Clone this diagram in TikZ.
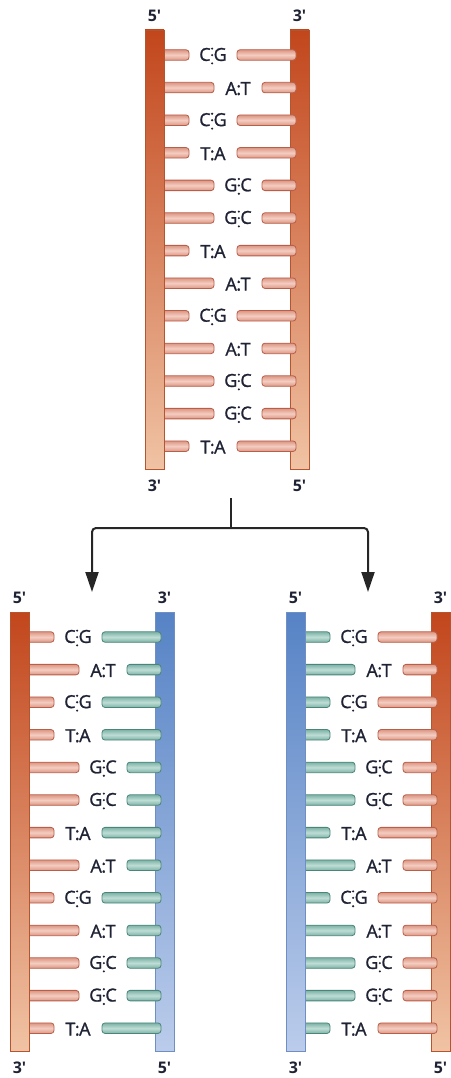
\documentclass[tikz,border=0pt]{standalone}
\usepackage{fontspec}
\setmainfont{Open Sans}
\newfontfamily\pairfont{Open Sans}[FakeBold=1.2]
\usetikzlibrary{arrows.meta}

\definecolor{rustTop}{HTML}{C2461C}
\definecolor{rustBot}{HTML}{F0C3A4}
\definecolor{rustEdge}{HTML}{B4552F}
\definecolor{blueTop}{HTML}{5683C5}
\definecolor{blueBot}{HTML}{BBCCEB}
\definecolor{blueEdge}{HTML}{6F8FC4}
\definecolor{oRungEdge}{HTML}{B85E49}
\definecolor{oRungFill}{HTML}{DC9683}
\definecolor{oRungLight}{HTML}{F4CDC1}
\definecolor{tRungEdge}{HTML}{4B8579}
\definecolor{tRungFill}{HTML}{7DB2A6}
\definecolor{tRungLight}{HTML}{BEDDD5}
\definecolor{ink}{HTML}{1E2233}

% three hydrogen-bond dots between G and C
\newcommand{\tripdots}{\tikz[baseline=0pt]{\fill[ink] (0,-2.5pt) circle (1.2pt) (0,5.8pt) circle (1.2pt) (0,12.3pt) circle (1.2pt);}}

\tikzset{
  strandbase/.style={rectangle, inner sep=0pt, outer sep=0pt, anchor=north west,
    minimum width=19pt, minimum height=439pt, line width=0.6pt},
  rust/.style={strandbase, draw=rustEdge, top color=rustTop, bottom color=rustBot},
  blue/.style={strandbase, draw=blueEdge, top color=blueTop, bottom color=blueBot},
  rungbase/.style={rectangle, rounded corners=3pt, inner sep=0pt, outer sep=0pt,
    minimum height=10.5pt, line width=0.8pt},
  orung/.style={rungbase, draw=oRungEdge, top color=oRungFill, bottom color=oRungFill, middle color=oRungLight},
  trung/.style={rungbase, draw=tRungEdge, top color=tRungFill, bottom color=tRungFill, middle color=tRungLight},
  pairlab/.style={inner sep=0pt, text=ink, font=\pairfont\fontsize{18}{18}\selectfont},
  endlab/.style={inner sep=0pt, text=ink, font=\fontsize{16}{16}\selectfont\bfseries},
  splitline/.style={draw=black!85, line width=2pt},
  splitarrow/.style={splitline, rounded corners=4pt, -{Triangle[length=20pt,width=13pt]}}
}

% #1 name, #2 left x, #3 top y, #4 left strand style, #5 right strand style,
% #6 left rung style, #7 right rung style
\newcommand{\ladder}[7]{%
  \pgfmathsetmacro{\Lx}{#2+19}%
  \pgfmathsetmacro{\Rx}{#2+145}%
  % rungs attached to the left strand (under it)
  \foreach \rl [count=\i] in {25,50,25,25,50,50,25,50,25,50,50,50,25}{%
    \pgfmathsetmacro{\yy}{#3+25+(\i-1)*32.6}%
    \pgfmathsetmacro{\ww}{\rl+4}%
    \node[#6, anchor=west, minimum width=\ww pt] (#1-l\i) at (\Lx-4,\yy) {};
  }
  \node[#4] (#1-L) at (#2,#3) {};
  \node[#5] (#1-R) at (\Rx,#3) {};
  % rungs attached to the right strand, and the base pair letters
  \foreach \a/\b/\rl/\n [count=\i] in {C/G/25/3, A/T/50/2, C/G/25/3, T/A/25/2,
      G/C/50/3, G/C/50/3, T/A/25/2, A/T/50/2, C/G/25/3, A/T/50/2,
      G/C/50/3, G/C/50/3, T/A/25/2}{%
    \pgfmathsetmacro{\yy}{#3+25+(\i-1)*32.6}%
    \pgfmathsetmacro{\xs}{\Lx+\rl+48}%
    \pgfmathsetmacro{\ww}{\Rx+6-\xs}%
    \pgfmathsetmacro{\xl}{\Lx+\rl+24}%
    \node[#7, anchor=west, minimum width=\ww pt] (#1-r\i) at (\xs,\yy) {};
    \node[pairlab] (#1-t\i) at (\xl,\yy+1) {\a\ifnum\n=3 \kern0.3pt\tripdots\kern0.3pt\else\kern-0.5pt:\kern-0.5pt\fi\b};
  }
  \node[endlab] (#1-L5) at (#2+9.5,#3-14) {5\textquotesingle};
  \node[endlab] (#1-L3) at (#2+9.5,#3+456) {3\textquotesingle};
  \node[endlab] (#1-R3) at (\Rx+9.5,#3-14) {3\textquotesingle};
  \node[endlab] (#1-R5) at (\Rx+9.5,#3+456) {5\textquotesingle};
}

\begin{document}
\begin{tikzpicture}[x=1pt,y=-1pt]
  \useasboundingbox (0,0) rectangle (450,1078);

  % parent double helix
  \ladder{top}{145}{30}{rust}{rust}{orung}{orung}
  % daughter molecules: one old strand paired with one new strand each
  \ladder{dl}{10}{612}{rust}{blue}{orung}{trung}
  \ladder{dr}{286}{612}{blue}{rust}{trung}{orung}

  % replication split
  \coordinate (fork) at (231,498);
  \coordinate (split) at (231,528);
  \coordinate (dstL) at (92,592);
  \coordinate (dstR) at (368,592);
  \draw[splitline] (fork) -- (split);
  \draw[splitarrow] (split) -| (dstL);
  \draw[splitarrow] (split) -| (dstR);
\end{tikzpicture}
\end{document}
